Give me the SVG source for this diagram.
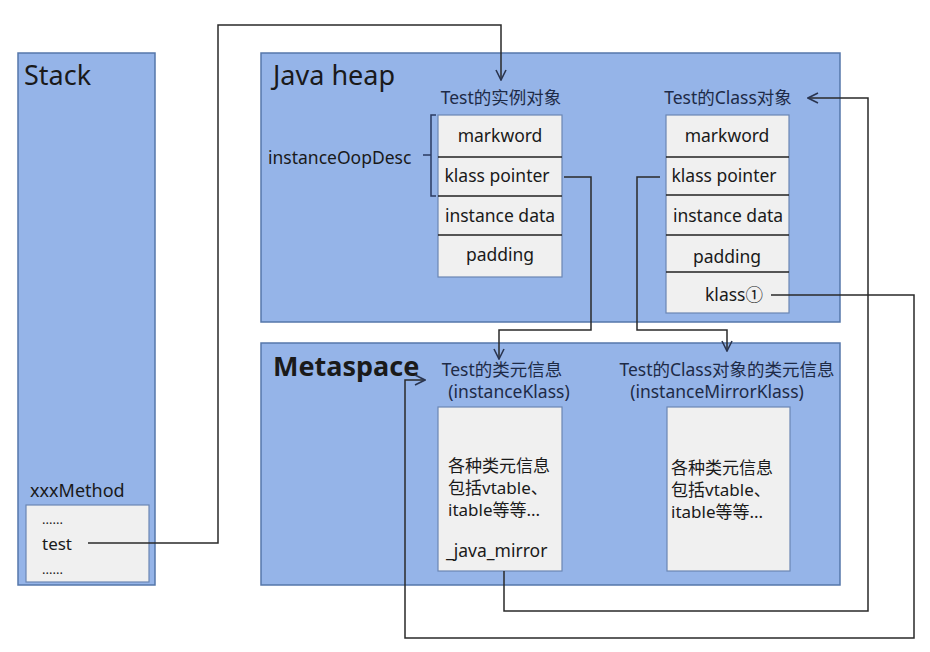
<svg xmlns="http://www.w3.org/2000/svg" width="930" height="652" viewBox="0 0 930 652">
<defs>
<style>
.region{fill:#95b4e8;stroke:#5577aa;stroke-width:1.5}
.cell{fill:#f0f0f0;stroke:#6b86b3;stroke-width:1.2}
.sep{stroke:#222;stroke-width:1.5}
.t{font-family:"Noto Sans","Noto Sans CJK SC",sans-serif;fill:#1a1a1a}
.title{font-size:27px}
.row{font-size:17.5px;text-anchor:middle}
.lbl{font-size:17.5px;fill:#1e2b47}
.cn{font-size:17px}
.conn{fill:none;stroke:#2a2a2a;stroke-width:1.5}
</style>
<marker id="ah" viewBox="0 0 12 12" refX="11" refY="6" markerWidth="12" markerHeight="12" markerUnits="userSpaceOnUse" orient="auto">
<polyline points="1,1 11,6 1,11" fill="none" stroke="#2a3550" stroke-width="1.6"/>
</marker>
</defs>
<rect width="930" height="652" fill="#ffffff"/>

<g id="stack">
<rect class="region" x="18" y="53" width="137" height="532"/>
<text class="t title" x="24" y="85">Stack</text>
<text class="t" x="30" y="497" font-size="18">xxxMethod</text>
<rect class="cell" x="26" y="505" width="123" height="77"/>
<text class="t" x="42" y="524" font-size="13">......</text>
<text class="t" x="42" y="550" font-size="17">test</text>
<text class="t" x="42" y="574" font-size="13">......</text>
</g>

<g id="java-heap">
<rect class="region" x="261" y="53" width="579" height="269"/>
<text class="t title" x="273" y="85">Java heap</text>
<text class="t" x="268" y="164" font-size="17.5">instanceOopDesc</text>
<path d="M436,115 H431 V196 H436 M431,155 H423" fill="none" stroke="#2a3a60" stroke-width="1.5"/>
</g>

<g id="instance-object">
<text class="t lbl" x="501" y="104" text-anchor="middle">Test的实例对象</text>
<rect class="cell" x="438" y="115" width="124" height="162"/>
<line class="sep" x1="438" y1="157" x2="562" y2="157"/>
<line class="sep" x1="438" y1="196" x2="562" y2="196"/>
<line class="sep" x1="438" y1="235" x2="562" y2="235"/>
<text class="t row" x="500" y="142">markword</text>
<text class="t row" x="497" y="182">klass pointer</text>
<text class="t row" x="500" y="222">instance data</text>
<text class="t row" x="500" y="261">padding</text>
</g>

<g id="class-object">
<text class="t lbl" x="728" y="104" text-anchor="middle">Test的Class对象</text>
<rect class="cell" x="666" y="115" width="123" height="198"/>
<line class="sep" x1="666" y1="157" x2="789" y2="157"/>
<line class="sep" x1="666" y1="195" x2="789" y2="195"/>
<line class="sep" x1="666" y1="235" x2="789" y2="235"/>
<line class="sep" x1="666" y1="272" x2="789" y2="272"/>
<text class="t row" x="727" y="142">markword</text>
<text class="t row" x="724" y="182">klass pointer</text>
<text class="t row" x="728" y="222">instance data</text>
<text class="t row" x="727" y="263">padding</text>
<text class="t row" x="734" y="301">klass①</text>
</g>

<g id="metaspace">
<rect class="region" x="261" y="343" width="579" height="242"/>
<text class="t title" x="273" y="376" font-size="25" font-weight="bold">Metaspace</text>
</g>

<g id="instance-klass">
<text class="t lbl" x="502" y="376" text-anchor="middle">Test的类元信息</text>
<text class="t lbl" x="509" y="398" text-anchor="middle">(instanceKlass)</text>
<rect class="cell" x="438" y="407" width="124" height="164"/>
<text class="t cn" x="448" y="472">各种类元信息</text>
<text class="t cn" x="448" y="494">包括vtable、</text>
<text class="t cn" x="448" y="516">itable等等...</text>
<text class="t" x="446" y="557" font-size="17.5">_java_mirror</text>
</g>

<g id="mirror-klass">
<text class="t lbl" x="727" y="376" text-anchor="middle">Test的Class对象的类元信息</text>
<text class="t lbl" x="717" y="398" text-anchor="middle">(instanceMirrorKlass)</text>
<rect class="cell" x="667" y="407" width="123" height="164"/>
<text class="t cn" x="671" y="474">各种类元信息</text>
<text class="t cn" x="671" y="496">包括vtable、</text>
<text class="t cn" x="671" y="518">itable等等...</text>
</g>

<g id="connectors">
<path class="conn" d="M88,543 H218 V25 H501 V80" marker-end="url(#ah)" stroke="#444"/>
<path class="conn" d="M564,177 H591 V330 H499 V359" marker-end="url(#ah)"/>
<path class="conn" d="M660,177 H637 V330 H727 V351" marker-end="url(#ah)"/>
<path class="conn" d="M504,571 V611 H868 V98 H808" marker-end="url(#ah)"/>
<path class="conn" d="M771,295 H914 V638 H405 V380 H425" marker-end="url(#ah)"/>
</g>
</svg>
